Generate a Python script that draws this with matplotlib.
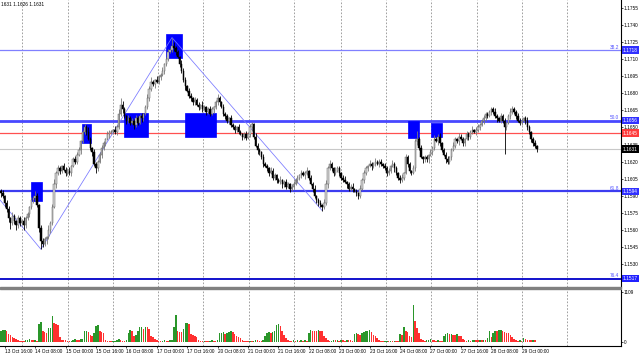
import matplotlib
matplotlib.use('Agg')
import numpy as np
from matplotlib import pyplot as plt
from matplotlib.patches import Rectangle

W, H = 640, 356
BASE = 1.15  # candle values are stored in pips above this price

# hourly closes, pips above BASE (one entry per bar, 13 Oct 14:00 .. 29 Oct 08:00)
close_pips = [
    92, 90, 84, 78, 70, 66, 72, 68, 64, 70,
    66, 68, 64, 70, 74, 80, 86, 88, 90, 82,
    62, 50, 48, 52, 54, 60, 66, 80, 100, 110,
    114, 112, 116, 113, 110, 112, 110, 116, 122, 120,
    126, 130, 138, 146, 150, 146, 140, 132, 128, 118,
    114, 120, 126, 132, 136, 140, 144, 146, 146, 148,
    146, 150, 162, 170, 166, 160, 156, 158, 154, 156,
    152, 158, 154, 160, 158, 162, 168, 176, 184, 190,
    188, 192, 190, 194, 196, 200, 206, 210, 216, 218,
    222, 220, 216, 212, 206, 200, 192, 186, 182, 178,
    176, 172, 174, 170, 168, 170, 166, 168, 164, 166,
    162, 166, 168, 172, 176, 172, 168, 162, 160, 156,
    158, 152, 150, 148, 150, 146, 144, 142, 144, 141,
    144, 150, 153, 142, 134, 130, 128, 124, 118, 116,
    114, 110, 112, 106, 108, 104, 102, 104, 100, 102,
    98, 100, 96, 98, 100, 104, 106, 108, 110, 108,
    110, 112, 106, 100, 96, 90, 86, 84, 82, 80,
    84, 100, 114, 118, 114, 110, 112, 114, 110, 106,
    104, 102, 100, 96, 98, 96, 94, 92, 90, 96,
    104, 110, 114, 116, 118, 116, 118, 120, 118, 120,
    118, 116, 114, 110, 112, 116, 118, 114, 110, 106,
    104, 106, 110, 124, 118, 112, 110, 114, 138, 140,
    132, 124, 122, 124, 122, 126, 128, 132, 140, 138,
    142, 136, 130, 126, 122, 120, 124, 130, 134, 140,
    138, 142, 140, 136, 140, 144, 142, 146, 148, 146,
    148, 150, 152, 156, 158, 162, 160, 164, 166, 164,
    160, 158, 156, 160, 156, 150, 154, 160, 164, 166,
    164, 160, 156, 154, 156, 158, 156, 150, 146, 140,
    136, 134, 131,
]
first_open_pips = 94

# upper / lower shadow lengths in pips
wick_hi = [
    2, 3, 1, 2, 3, 1, 4, 2, 1, 3,
    2, 1, 3, 2, 2, 1, 3, 2, 4, 2,
    1, 2, 3, 2, 1, 4, 2, 3, 5, 2,
    3, 2, 1, 3, 2, 2, 3, 1, 2, 3,
    2, 3, 1, 2, 3, 2, 4, 2, 1, 3,
    2, 1, 2, 3, 2, 1, 3, 2, 2, 1,
    3, 2, 4, 6, 3, 2, 1, 3, 2, 2,
    1, 3, 2, 2, 3, 1, 2, 3, 2, 4,
    2, 1, 3, 2, 2, 3, 1, 2, 3, 2,
    7, 3, 2, 2, 1, 3, 2, 2, 1, 3,
    2, 1, 3, 2, 2, 1, 3, 2, 1, 2,
    3, 2, 1, 2, 3, 2, 1, 3, 2, 2,
    1, 3, 2, 2, 1, 3, 2, 1, 2, 3,
    2, 3, 2, 1, 3, 2, 2, 1, 3, 2,
    2, 1, 3, 2, 2, 1, 2, 3, 1, 2,
    3, 2, 1, 2, 3, 2, 2, 1, 3, 2,
    2, 3, 1, 2, 2, 3, 1, 2, 2, 1,
    3, 4, 2, 3, 2, 1, 3, 2, 2, 1,
    2, 3, 1, 2, 2, 3, 1, 2, 1, 3,
    2, 3, 2, 1, 3, 2, 2, 3, 1, 2,
    2, 1, 3, 2, 2, 1, 3, 2, 2, 1,
    2, 3, 1, 3, 2, 2, 1, 3, 2, 7,
    2, 3, 1, 2, 2, 1, 3, 2, 3, 2,
    2, 3, 1, 2, 2, 3, 1, 2, 3, 2,
    1, 3, 2, 2, 1, 3, 2, 2, 3, 1,
    2, 3, 2, 1, 3, 2, 2, 1, 2, 2,
    3, 2, 1, 3, 2, 2, 1, 2, 3, 3,
    2, 1, 3, 2, 2, 1, 2, 3, 2, 1,
    2, 3, 1,
]
wick_lo = [
    3, 2, 4, 2, 3, 5, 2, 3, 4, 2,
    3, 2, 4, 2, 1, 3, 2, 2, 3, 2,
    4, 7, 3, 2, 4, 2, 3, 2, 1, 3,
    2, 3, 2, 1, 3, 2, 2, 3, 1, 2,
    2, 1, 3, 2, 2, 3, 1, 2, 3, 2,
    4, 2, 1, 3, 2, 2, 1, 3, 2, 2,
    2, 3, 1, 2, 3, 2, 3, 2, 2, 1,
    3, 2, 2, 1, 3, 2, 1, 2, 3, 2,
    2, 3, 1, 2, 2, 1, 3, 2, 2, 1,
    2, 3, 2, 1, 3, 2, 2, 3, 1, 2,
    3, 2, 2, 1, 3, 2, 2, 1, 3, 2,
    2, 1, 3, 2, 2, 3, 1, 2, 3, 2,
    3, 2, 1, 3, 2, 2, 1, 3, 2, 2,
    1, 2, 3, 2, 1, 3, 2, 2, 3, 1,
    2, 3, 1, 2, 2, 3, 1, 2, 3, 2,
    2, 1, 3, 2, 2, 1, 3, 2, 2, 1,
    3, 2, 2, 1, 3, 2, 2, 3, 2, 3,
    2, 2, 3, 1, 2, 3, 2, 1, 3, 2,
    2, 1, 3, 2, 2, 3, 1, 2, 3, 2,
    1, 3, 2, 2, 1, 3, 2, 2, 1, 3,
    2, 2, 1, 3, 2, 2, 1, 3, 2, 2,
    3, 2, 2, 1, 3, 2, 2, 1, 2, 3,
    2, 1, 3, 2, 2, 3, 1, 2, 2, 1,
    3, 2, 2, 1, 3, 2, 2, 3, 1, 2,
    2, 3, 1, 2, 2, 1, 3, 2, 2, 1,
    3, 2, 2, 1, 3, 2, 2, 1, 3, 2,
    2, 3, 1, 2, 2, 23, 2, 1, 3, 2,
    2, 3, 1, 2, 2, 1, 3, 2, 2, 3,
    2, 2, 3,
]

# tick volumes
volumes = [
    260, 270, 280, 250, 190, 155, 120, 90, 70, 50,
    35, 30, 30, 45, 60, 65, 55, 45, 50, 40,
    400, 450, 240, 220, 200, 310, 320, 585, 420, 400,
    380, 120, 60, 50, 45, 30, 30, 35, 60, 65,
    55, 50, 70, 75, 240, 250, 220, 160, 150, 200,
    360, 380, 240, 220, 200, 60, 35, 30, 30, 35,
    40, 60, 80, 50, 40, 40, 45, 200, 280, 260,
    150, 160, 260, 330, 340, 300, 350, 330, 290, 150,
    110, 70, 50, 40, 35, 40, 60, 40, 35, 45,
    50, 330, 600, 250, 230, 220, 300, 420, 430, 410,
    190, 170, 150, 120, 50, 40, 35, 40, 40, 30,
    40, 45, 40, 40, 50, 200, 210, 220, 190, 200,
    230, 240, 220, 180, 150, 120, 90, 60, 40, 40,
    35, 40, 30, 40, 50, 45, 40, 35, 50, 140,
    200, 220, 210, 220, 260, 380, 410, 360, 240, 170,
    100, 55, 40, 35, 45, 40, 55, 40, 50, 40,
    45, 40, 200, 270, 260, 250, 240, 270, 250, 240,
    140, 90, 50, 30, 40, 60, 55, 60, 40, 55,
    50, 40, 60, 50, 45, 40, 190, 200, 180, 170,
    200, 230, 240, 260, 280, 230, 170, 130, 90, 60,
    40, 30, 35, 40, 30, 35, 30, 40, 35, 30,
    180, 170, 330, 240, 230, 130, 120, 830, 480, 310,
    200, 80, 50, 40, 55, 60, 65, 60, 50, 40,
    45, 40, 35, 150, 190, 200, 180, 190, 170, 160,
    180, 150, 130, 80, 50, 40, 45, 40, 50, 55,
    50, 45, 55, 50, 60, 45, 100, 240, 120, 200,
    260, 240, 270, 280, 260, 230, 200, 200, 170, 120,
    80, 50, 40, 45, 40, 90, 80, 60, 50, 45,
    55, 50, 10,
]
assert len(close_pips) == len(wick_hi) == len(wick_lo) == len(volumes)

date_labels = [
    '13 Oct 16:00', '14 Oct 08:00', '15 Oct 00:00', '15 Oct 16:00',
    '16 Oct 08:00', '17 Oct 00:00', '17 Oct 16:00', '20 Oct 08:00',
    '21 Oct 00:00', '21 Oct 16:00', '22 Oct 08:00', '23 Oct 00:00',
    '23 Oct 16:00', '24 Oct 08:00', '27 Oct 00:00', '27 Oct 16:00',
    '28 Oct 08:00', '29 Oct 00:00',
]
label_bars = [2 + 16 * k for k in range(len(date_labels))]
grid_bars = [10.9, 35.1, 58.8, 82.8, 106.5, 130.7, 154.4, 178.8,
             202.5, 226.3, 250.4, 274.4, 298.1]

# fibo levels
fib_names = ['38.2', '50.0', '61.8', '76.4']
fib_prices = [1.1718, 1.1656, 1.1594, 1.1517]
fib_colors = ['#8080ff', '#4848ff', '#3c3cf0', '#0000c8']
fib_widths = [0.9, 2.0, 1.6, 1.3]

level_price = 1.1645   # red line
last_price = 1.1631

# blue zones: bar span and price span
box_bar0 = [15.8, 42.6, 64.7, 86.8, 96.8, 214.2, 226.3]
box_bar1 = [21.6, 47.4, 77.4, 95.3, 113.2, 220.0, 232.1]
box_lo = [1.15854, 1.16364, 1.16412, 1.17111, 1.16412, 1.16408, 1.16414]
box_hi = [1.16021, 1.16531, 1.16627, 1.17322, 1.16627, 1.16557, 1.16540]

zz_start_price = 1.15863
zz_bars = [21, 90, 169]   # low, high, low

FS = 3.4
plt.rcParams['font.family'] = ['Liberation Sans', 'DejaVu Sans']


def fig_box(x0, y0, x1, y1):
    # pixel box (from top-left) -> figure fraction rect
    return [x0 / W, 1 - y1 / H, (x1 - x0) / W, (y1 - y0) / H]


fig = plt.figure(figsize=(W / 100, H / 100), dpi=100)
ax = fig.add_axes(fig_box(0, 0, 620.5, 287))
axv = fig.add_axes(fig_box(0, 289.5, 620.5, 345.7), sharex=ax)

n = len(close_pips)
idx = np.arange(n)
close = BASE + np.array(close_pips) / 1e4
opens = np.concatenate([[BASE + first_open_pips / 1e4], close[:-1]])
high = np.maximum(opens, close) + np.array(wick_hi) / 1e4
low = np.minimum(opens, close) - np.array(wick_lo) / 1e4
bull = close >= opens

# grid
for a in (ax, axv):
    for g in grid_bars:
        a.axvline(g, color='#909090', lw=0.6, ls=(0, (2, 2)), zorder=0)

# horizontal levels
for name, p, c, w in zip(fib_names, fib_prices, fib_colors, fib_widths):
    ax.axhline(p, color=c, lw=w, zorder=1)
    ax.text(0.998, p + 0.00004, name, transform=ax.get_yaxis_transform(),
            ha='right', va='bottom', fontsize=FS, color='#5050ff')
ax.axhline(level_price, color='#ff5050', lw=0.9, zorder=1)
ax.axhline(last_price, color='#c8c8c8', lw=0.8, zorder=1)

# zones
for b0, b1, lo, hi in zip(box_bar0, box_bar1, box_lo, box_hi):
    ax.add_patch(Rectangle((b0, lo), b1 - b0, hi - lo, facecolor='#0000ff',
                           edgecolor='#0000ff', lw=0.5, zorder=2))

# zigzag
zz_x = [-0.5] + zz_bars
zz_y = [zz_start_price, low[zz_bars[0]], high[zz_bars[1]], low[zz_bars[2]]]
ax.plot(zz_x, zz_y, color='#7878ff', lw=0.55, zorder=2)

# candles
ax.vlines(idx[bull], low[bull], high[bull], color='#7a7a7a', lw=0.6, zorder=3)
ax.vlines(idx[~bull], low[~bull], high[~bull], color='black', lw=0.6, zorder=3)
body_lo = np.minimum(opens, close)
body_h = np.maximum(np.abs(close - opens), 0.00004)
ax.bar(idx[bull], body_h[bull], bottom=body_lo[bull], width=0.75,
       color='#d8d8d8', edgecolor='#606060', lw=0.35, zorder=4)
ax.bar(idx[~bull], body_h[~bull], bottom=body_lo[~bull], width=0.75,
       color='black', edgecolor='black', lw=0.35, zorder=4)

# volumes: green when rising, red when falling
vol = np.array(volumes)
vol_up = np.concatenate([[True], vol[1:] > vol[:-1]])
axv.bar(idx, vol, width=0.8, color=np.where(vol_up, '#2a962a', '#ff3030'),
        lw=0, zorder=2)

ax.set_xlim(-0.5, 326)
ax.set_ylim(1.15098, 1.17620)
axv.set_ylim(-75, 1171)

# price axis
ax.yaxis.tick_right()
price_ticks = np.arange(1.1530, 1.17551, 0.0015)
ax.set_yticks(price_ticks)
ax.set_yticklabels([f'{p:.4f}' for p in price_ticks])
ax.tick_params(axis='y', labelsize=FS, length=1.5, width=0.5, pad=1.0)
ax.tick_params(axis='x', bottom=False, labelbottom=False)

axv.yaxis.tick_right()
axv.set_yticks([0, 1109])
axv.set_yticklabels(['0', '1109'])
axv.tick_params(axis='y', labelsize=FS, length=1.5, width=0.5, pad=1.0)
axv.set_xticks(label_bars)
axv.set_xticklabels(date_labels, ha='left')
axv.tick_params(axis='x', labelsize=FS, length=1.5, width=0.5, pad=0.8)

for a in (ax, axv):
    for s in ('left', 'top'):
        a.spines[s].set_visible(False)
    a.spines['right'].set_linewidth(0.8)
ax.spines['bottom'].set_visible(False)
axv.spines['bottom'].set_linewidth(0.8)

# price tags on the scale
tags = [(fib_prices[0], '#3030ff'), (fib_prices[1], '#3030ff'),
        (level_price, '#ff3c3c'), (last_price, 'black'),
        (fib_prices[2], '#3030ff'), (fib_prices[3], '#2020ff')]
for p, c in tags:
    ax.text(1.0 + 2.5 / 620.5, p, f'{p:.4f}', transform=ax.get_yaxis_transform(),
            ha='left', va='center', fontsize=FS, color='white', clip_on=False,
            zorder=10, bbox=dict(boxstyle='square,pad=0.25', fc=c, ec='none'))

# pane separator
fig.patches.append(Rectangle((0, 1 - 289.3 / H), 620.5 / W, 2.6 / H,
                             transform=fig.transFigure, color='#808080'))

fig.text(1 / W, 1 - 5 / H, '1631 1.1626 1.1631', fontsize=FS, va='center')

fig.savefig('out.png', dpi=100)
